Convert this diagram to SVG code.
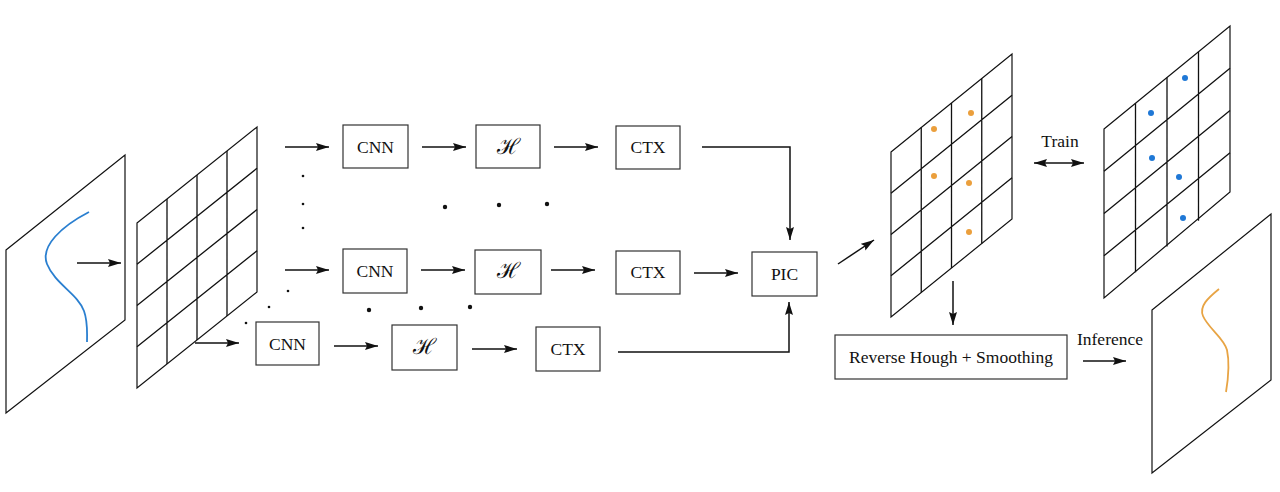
<svg xmlns="http://www.w3.org/2000/svg" width="1280" height="492" viewBox="0 0 1280 492">
<style>
.box{fill:#fff;stroke:#333;stroke-width:1.2}
.pl{fill:#fff;stroke:#111;stroke-width:1.2}
.gl{fill:none;stroke:#111;stroke-width:1.3}
.t{font-family:"Liberation Serif","Times New Roman",serif;font-size:17.5px;fill:#111;text-anchor:middle}
.h{font-family:"DejaVu Serif","Liberation Serif",serif;font-size:22px;fill:#111;text-anchor:middle}
.c{fill:none;stroke:#111;stroke-width:1.5}
.a{marker-end:url(#ah)}
.d{fill:#111}
</style>
<defs>
<marker id="ah" markerUnits="userSpaceOnUse" markerWidth="14" markerHeight="9" refX="13" refY="4.5" orient="auto-start-reverse">
<path d="M0,0.5 L13,4.5 L0,8.5 L2,4.5 z" fill="#111"/>
</marker>
</defs>
<rect width="1280" height="492" fill="#fff"/>

<g id="input-image">
<polygon class="pl" points="6,250 125,155 125,320 6,413"/>
<path d="M89,212 C62,226 40,246 47,264 C55,284 78,294 84,311 C88,322 87,334 87,342" fill="none" stroke="#2a7fd0" stroke-width="1.8"/>
</g>

<g id="grid-1">
<polygon class="pl" points="137,223 257,127 257,292 137,388"/>
<path class="gl" d="M167,199V364M197,175V340M227,151V316M137,264.25L257,168.25M137,305.5L257,209.5M137,346.75L257,250.75"/>
</g>

<g id="cnn-1"><rect class="box" x="343" y="125" width="65" height="43"/><text class="t" x="375.5" y="152.5">CNN</text></g>
<g id="h-1"><rect class="box" x="476" y="125" width="64" height="43"/><text class="h" x="508" y="154">ℋ</text></g>
<g id="ctx-1"><rect class="box" x="616" y="126" width="64" height="43"/><text class="t" x="648" y="153">CTX</text></g>

<g id="cnn-2"><rect class="box" x="343" y="249" width="64" height="44"/><text class="t" x="375" y="276.5">CNN</text></g>
<g id="h-2"><rect class="box" x="475" y="250" width="66" height="44"/><text class="h" x="508" y="278">ℋ</text></g>
<g id="ctx-2"><rect class="box" x="616" y="251" width="64" height="43"/><text class="t" x="648" y="278">CTX</text></g>

<g id="cnn-3"><rect class="box" x="256" y="322" width="63" height="43"/><text class="t" x="287.5" y="349.5">CNN</text></g>
<g id="h-3"><rect class="box" x="392" y="325" width="65" height="45"/><text class="h" x="424.5" y="354">ℋ</text></g>
<g id="ctx-3"><rect class="box" x="536" y="327" width="64" height="44"/><text class="t" x="568" y="355">CTX</text></g>

<g id="pic"><rect class="box" x="752" y="252" width="65" height="44"/><text class="t" x="784.5" y="280">PIC</text></g>

<g id="grid-2">
<polygon class="pl" points="891,152 1012,54 1012,219 891,317"/>
<path class="gl" d="M921.25,127.5V292.5M951.5,103V268M981.75,78.5V243.5M891,193.25L1012,95.25M891,234.5L1012,136.5M891,275.75L1012,177.75"/>
<g fill="#eb9f3c">
<circle cx="934" cy="129" r="3"/><circle cx="971" cy="113" r="3"/><circle cx="934" cy="176" r="3"/><circle cx="969" cy="183" r="3"/><circle cx="969" cy="232" r="3"/>
</g>
</g>

<g id="grid-3">
<polygon class="pl" points="1104,129 1230,26 1230,192 1104,298"/>
<path class="gl" d="M1135.5,103.25V272.25M1167,77.5V246.5M1198.5,51.75V220.75M1104,171.25L1230,68.25M1104,213.5L1230,110.5M1104,255.75L1230,152.75"/>
<g fill="#1f78d6">
<circle cx="1185" cy="78" r="3"/><circle cx="1151" cy="113" r="3"/><circle cx="1152" cy="158" r="3"/><circle cx="1179" cy="177" r="3"/><circle cx="1183" cy="218" r="3"/>
</g>
</g>

<g id="reverse-hough"><rect class="box" x="835" y="335" width="232" height="44"/><text class="t" x="951" y="363">Reverse Hough + Smoothing</text></g>

<g id="output-image">
<polygon class="pl" points="1152,310 1271,214 1271,380 1152,473"/>
<path d="M1219,289 C1208,298 1199,306 1203,316 C1208,328 1224,338 1227,350 C1230,364 1228,380 1226,392" fill="none" stroke="#e8a444" stroke-width="1.8"/>
</g>

<g id="labels">
<text class="t" x="1060" y="147">Train</text>
<text class="t" x="1110" y="345">Inference</text>
</g>

<g id="dots">
<circle class="d" cx="303" cy="176" r="1.3"/><circle class="d" cx="303" cy="204" r="1.3"/><circle class="d" cx="303" cy="228" r="1.3"/>
<circle class="d" cx="445" cy="207" r="2.2"/><circle class="d" cx="499" cy="205" r="2.2"/><circle class="d" cx="547" cy="204" r="2.2"/>
<circle class="d" cx="288" cy="291" r="1.3"/><circle class="d" cx="269" cy="307" r="1.3"/><circle class="d" cx="246" cy="323" r="1.3"/>
<circle class="d" cx="369" cy="310" r="2.2"/><circle class="d" cx="421" cy="308" r="2.2"/><circle class="d" cx="470" cy="307" r="2.2"/>
</g>

<g id="connectors">
<line class="c a" x1="77" y1="263" x2="121" y2="263"/>
<line class="c a" x1="195" y1="343" x2="239" y2="343"/>
<line class="c a" x1="285" y1="147" x2="329" y2="147"/>
<line class="c a" x1="422" y1="147" x2="466" y2="147"/>
<line class="c a" x1="554" y1="147" x2="598" y2="147"/>
<line class="c a" x1="285" y1="270" x2="329" y2="270"/>
<line class="c a" x1="421" y1="270" x2="465" y2="270"/>
<line class="c a" x1="551" y1="270" x2="595" y2="270"/>
<line class="c a" x1="334" y1="346" x2="378" y2="346"/>
<line class="c a" x1="472" y1="349" x2="517" y2="349"/>
<path class="c a" d="M702,147 H790 V240"/>
<line class="c a" x1="694" y1="273" x2="738" y2="273"/>
<path class="c a" d="M618,352 H789 V302"/>
<line class="c a" x1="838" y1="264" x2="874" y2="240"/>
<line class="c a" x1="953" y1="281" x2="953" y2="325"/>
<line class="c a" x1="1083" y1="361" x2="1126" y2="361"/>
<line class="c" x1="1034" y1="163" x2="1084" y2="163" marker-start="url(#ah)" marker-end="url(#ah)"/>
</g>
</svg>
